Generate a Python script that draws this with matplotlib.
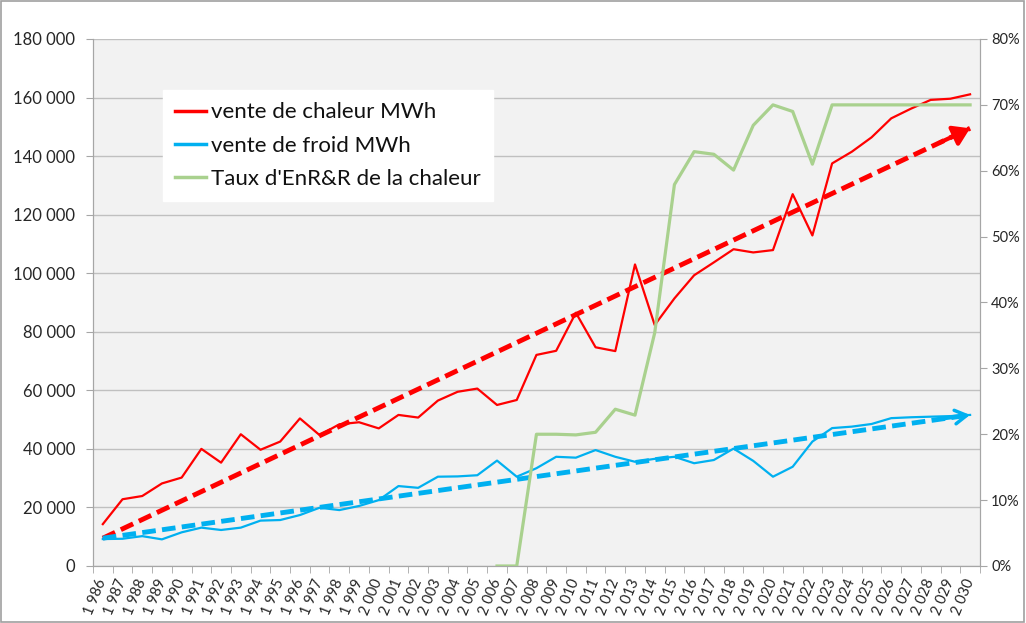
import matplotlib.pyplot as plt
import matplotlib.ticker as mticker
from matplotlib.patches import Rectangle
import numpy as np

years = list(range(1986, 2031))

chaleur = [14300, 22800, 23900, 28200, 30200, 40000, 35300, 45000, 39700, 42500,
           50400, 44700, 48400, 49100, 47000, 51600, 50700, 56500, 59500, 60600,
           55000, 56700, 72100, 73500, 86500, 74700, 73400, 103000, 82300, 91400,
           99300, 103700, 108200, 107100, 107900, 127000, 112900, 137500, 141500, 146400,
           152900, 156200, 159200, 159600, 161100]

froid = [9200, 9300, 10200, 9100, 11500, 13100, 12300, 13100, 15500, 15700,
         17400, 19900, 19100, 20500, 22500, 27300, 26700, 30500, 30600, 31000,
         36000, 30500, 33400, 37300, 37000, 39600, 37300, 35600, 36600, 37300,
         35100, 36200, 40100, 35900, 30500, 33900, 42500, 47100, 47600, 48500,
         50500, 50800, 51000, 51200, 51600]

nan = np.nan
taux = [nan] * 20 + [0.0, 0.0, 20.0, 20.0, 19.9, 20.3, 23.8, 22.9, 35.4, 57.9,
                     62.9, 62.5, 60.1, 66.9, 70.0, 69.0, 61.0, 70.0, 70.0, 70.0,
                     70.0, 70.0, 70.0, 70.0, 70.0]

# tendances (debut 1986, fin 2030)
trend_chaleur = [9500, 149500]
trend_froid = [9500, 51600]

labels = ['vente de chaleur MWh', 'vente de froid MWh', "Taux d'EnR&R de la chaleur"]

RED = '#ff0000'
BLUE = '#00b0f0'
GREEN = '#a9d18e'
GRID = '#c0c0c0'
TXT = '#262626'

plt.rcParams['font.family'] = ['Lato', 'DejaVu Sans']

fig = plt.figure(figsize=(10.26, 6.23), dpi=100)
fig.patches.append(Rectangle((0.001, 0.002), 0.997, 0.996, transform=fig.transFigure,
                             fill=False, edgecolor='#a0a0a0', lw=1.2))
ax = fig.add_axes([0.0906, 0.0915, 0.8645, 0.8459])
ax.set_facecolor('#f2f2f2')
x = np.arange(len(years))

l1, = ax.plot(x, chaleur, color=RED, lw=1.6, zorder=3)
l2, = ax.plot(x, froid, color=BLUE, lw=1.6, zorder=3)

xe = [x[0], x[-1]]
dash = (0, (2.8, 1.3))
ax.plot(xe, trend_chaleur, color=RED, lw=3.5, ls=dash, zorder=4)
ax.plot(xe, trend_froid, color=BLUE, lw=3.5, ls=dash, zorder=4)
k = 0.035
ax.annotate('', xy=(x[-1], trend_chaleur[1]),
            xytext=(x[-1] - k * (x[-1] - x[0]), trend_chaleur[1] - k * (trend_chaleur[1] - trend_chaleur[0])),
            arrowprops=dict(arrowstyle='-|>,head_length=0.7,head_width=0.45', color=RED, lw=3,
                            mutation_scale=14, shrinkA=0, shrinkB=0), zorder=5)
ax.annotate('', xy=(x[-1], trend_froid[1]),
            xytext=(x[-1] - k * (x[-1] - x[0]), trend_froid[1] - k * (trend_froid[1] - trend_froid[0])),
            arrowprops=dict(arrowstyle='->,head_length=0.6,head_width=0.35', color=BLUE, lw=2.5,
                            mutation_scale=14, shrinkA=0, shrinkB=0), zorder=5)

ax.set_xlim(-0.5, len(years) - 0.5)
ax.set_ylim(0, 180000)
ax.set_yticks(np.arange(0, 180001, 20000))
ax.yaxis.set_major_formatter(mticker.FuncFormatter(lambda v, p: f'{int(v):,}'.replace(',', ' ')))
ax.grid(axis='y', color=GRID, lw=1)
ax.set_axisbelow(True)

ax.set_xticks(x)
ax.set_xticklabels([f'{y:,}'.replace(',', ' ') for y in years], rotation=68,
                   ha='right', va='center', rotation_mode='anchor', fontsize=10.5,
                   color=TXT)
ax.set_xticks(np.arange(-0.5, len(years)), minor=True)
ax.tick_params(axis='x', which='major', length=0, pad=10)
ax.tick_params(axis='x', which='minor', length=5, color='#a6a6a6')
ax.tick_params(axis='y', length=5, color='#a6a6a6', labelsize=12, labelcolor=TXT, pad=8)

ax2 = ax.twinx()
l3, = ax2.plot(x, taux, color=GREEN, lw=2.3, zorder=3)
ax2.set_ylim(0, 80)
ax2.set_yticks(np.arange(0, 81, 10))
ax2.yaxis.set_major_formatter(mticker.FuncFormatter(lambda v, p: f'{int(v)}%'))
ax2.tick_params(axis='y', length=5, color='#a6a6a6', labelsize=10.5, labelcolor=TXT, pad=3)

for a in (ax, ax2):
    for s in a.spines.values():
        s.set_color('#a6a6a6')
    a.spines['top'].set_visible(False)

leg = ax2.legend([l1, l2, l3], labels, loc='upper left', bbox_to_anchor=(0.079, 0.903),
                 fontsize=16, frameon=True, fancybox=False, framealpha=1,
                 edgecolor='white', handlelength=1.4, handletextpad=0.2,
                 labelspacing=0.6, borderpad=0.55, borderaxespad=0)
for t in leg.get_texts():
    t.set_color('#111111')
for h in leg.get_lines():
    h.set_linewidth(2.5)

fig.savefig('out.png', dpi=100)
